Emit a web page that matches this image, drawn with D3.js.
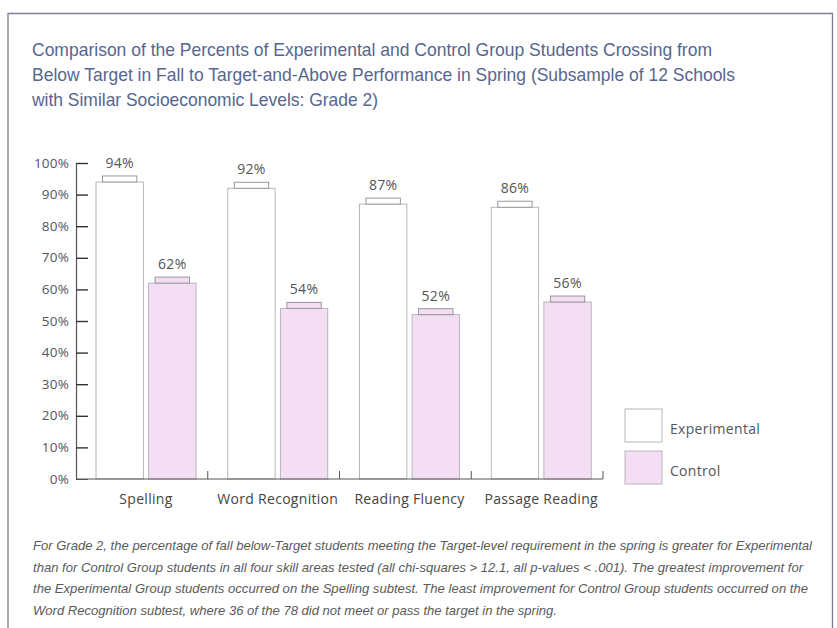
<!DOCTYPE html>
<html>
<head>
<meta charset="utf-8">
<script src="https://cdn.jsdelivr.net/npm/d3@7"></script>
<style>
  html, body { margin: 0; padding: 0; background: #fff; }
  svg { display: block; }
</style>
</head>
<body>
<div id="chart"></div>
<script>
// data
const categories = ["Spelling", "Word Recognition", "Reading Fluency", "Passage Reading"];
const groups = ["Experimental", "Control"];
const experimental = [94, 92, 87, 86];
const control = [62, 54, 52, 56];
const yTicks = [0, 10, 20, 30, 40, 50, 60, 70, 80, 90, 100];

const titleLines = [
  "Comparison of the Percents of Experimental and Control Group Students Crossing from",
  "Below Target in Fall to Target-and-Above Performance in Spring (Subsample of 12 Schools",
  "with Similar Socioeconomic Levels: Grade 2)"
];
const noteLines = [
  "For Grade 2, the percentage of fall below-Target students meeting the Target-level requirement in the spring is greater for Experimental",
  "than for Control Group students in all four skill areas tested (all chi-squares > 12.1, all p-values < .001). The greatest improvement for",
  "the Experimental Group students occurred on the Spelling subtest. The least improvement for Control Group students occurred on the",
  "Word Recognition subtest, where 36 of the 78 did not meet or pass the target in the spring."
];

const W = 837, H = 628;
const fills = { Experimental: "#ffffff", Control: "#f3def3" };
const labelFont = "'Open Sans', 'Noto Sans', sans-serif";
const narrowFont = "'Liberation Sans Narrow', 'Liberation Sans', Arial, sans-serif";

const svg = d3.select("#chart").append("svg")
  .attr("width", W)
  .attr("height", H);

// frame
svg.append("path")
  .attr("d", `M8,${H + 2} V13.5 H832.5 V${H + 2}`)
  .attr("fill", "none")
  .attr("stroke", "#7d7f90")
  .attr("stroke-width", 1.3);

// title
const titleWidths = [680, 703, 346];
svg.append("g").selectAll("text")
  .data(titleLines)
  .join("text")
  .attr("x", 32)
  .attr("y", (d, i) => 56 + i * 25)
  .attr("textLength", (d, i) => titleWidths[i])
  .attr("lengthAdjust", "spacingAndGlyphs")
  .attr("font-family", narrowFont)
  .attr("font-size", 18.5)
  .attr("fill", "#56668f")
  .text(d => d);

// scales
const x0 = d3.scaleBand().domain(categories).range([76, 603]);
const x1 = d3.scaleBand().domain(groups).range([20, 120]).paddingInner(0.1);
const y = d3.scaleLinear().domain([0, 100]).range([479, 163]);

const rows = categories.map((c, i) => ({
  category: c,
  values: [
    { group: "Experimental", value: experimental[i] },
    { group: "Control", value: control[i] }
  ]
}));

// bars
const bars = svg.append("g").selectAll("g")
  .data(rows)
  .join("g")
  .attr("transform", d => `translate(${x0(d.category)},0)`)
  .selectAll("g")
  .data(d => d.values)
  .join("g");

bars.append("rect")
  .attr("x", d => x1(d.group))
  .attr("y", d => y(d.value))
  .attr("width", x1.bandwidth())
  .attr("height", d => y(0) - y(d.value))
  .attr("fill", d => fills[d.group])
  .attr("stroke", "#b0b0b6")
  .attr("stroke-width", 0.9);

// small cap on top of each bar
const capInset = 6.5, capH = 6;
bars.append("rect")
  .attr("x", d => x1(d.group) + capInset)
  .attr("y", d => y(d.value) - capH)
  .attr("width", x1.bandwidth() - capInset * 2)
  .attr("height", capH)
  .attr("fill", d => fills[d.group])
  .attr("stroke", "#8e8e96")
  .attr("stroke-width", 0.9);

bars.append("text")
  .attr("x", d => x1(d.group) + x1.bandwidth() / 2)
  .attr("y", d => y(d.value) - 14)
  .attr("text-anchor", "middle")
  .attr("font-family", labelFont)
  .attr("font-size", 14)
  .attr("letter-spacing", 0.3)
  .attr("fill", "#555")
  .text(d => d.value + "%");

// y axis (ticks point inward)
const yAxis = d3.axisRight(y)
  .tickValues(yTicks)
  .tickSize(12)
  .tickFormat("");
const gy = svg.append("g")
  .attr("transform", "translate(76,0)")
  .call(yAxis);
gy.select(".domain").attr("stroke", "#555").attr("stroke-width", 1.2);
gy.selectAll(".tick line").attr("stroke", "#333").attr("stroke-width", 1.4);
gy.selectAll(".tick").filter(d => d === 0).select("line").remove();

svg.append("g").selectAll("text")
  .data(yTicks)
  .join("text")
  .attr("x", 69)
  .attr("y", d => y(d) + 4.5)
  .attr("text-anchor", "end")
  .attr("font-family", labelFont)
  .attr("font-size", 13.5)
  .attr("letter-spacing", 0.2)
  .attr("fill", "#555")
  .text(d => d + "%");

// x axis with upward ticks at category boundaries
const gx = svg.append("g").attr("transform", `translate(0,${y(0)})`);
gx.append("line")
  .attr("x1", x0.range()[0])
  .attr("x2", x0.range()[1])
  .attr("stroke", "#555")
  .attr("stroke-width", 1.2);
gx.selectAll(".sep")
  .data(categories)
  .join("line")
  .attr("class", "sep")
  .attr("x1", d => x0(d) + x0.bandwidth())
  .attr("x2", d => x0(d) + x0.bandwidth())
  .attr("y1", 0)
  .attr("y2", -8)
  .attr("stroke", "#555")
  .attr("stroke-width", 1);

gx.selectAll(".cat")
  .data(categories)
  .join("text")
  .attr("class", "cat")
  .attr("x", d => x0(d) + 70)
  .attr("y", 25)
  .attr("text-anchor", "middle")
  .attr("font-family", labelFont)
  .attr("font-size", 14)
  .attr("letter-spacing", 0.3)
  .attr("fill", "#444")
  .text(d => d);

// legend
const legend = svg.append("g").selectAll("g")
  .data(groups)
  .join("g")
  .attr("transform", (d, i) => `translate(625,${409 + i * 42})`);
legend.append("rect")
  .attr("width", 37)
  .attr("height", 33)
  .attr("fill", d => fills[d])
  .attr("stroke", "#b0b0b6")
  .attr("stroke-width", 0.9);
legend.append("text")
  .attr("x", 45)
  .attr("y", 25)
  .attr("font-family", labelFont)
  .attr("font-size", 14)
  .attr("letter-spacing", 0.3)
  .attr("fill", "#555")
  .text(d => d);

// note under the chart
const noteWidths = [779, 770, 775, 524];
svg.append("g").selectAll("text")
  .data(noteLines)
  .join("text")
  .attr("x", 33)
  .attr("y", (d, i) => 550 + i * 21.5)
  .attr("textLength", (d, i) => noteWidths[i])
  .attr("lengthAdjust", "spacingAndGlyphs")
  .attr("font-family", narrowFont)
  .attr("font-style", "italic")
  .attr("font-size", 13)
  .attr("fill", "#5a5a5a")
  .text(d => d);
</script>
</body>
</html>
